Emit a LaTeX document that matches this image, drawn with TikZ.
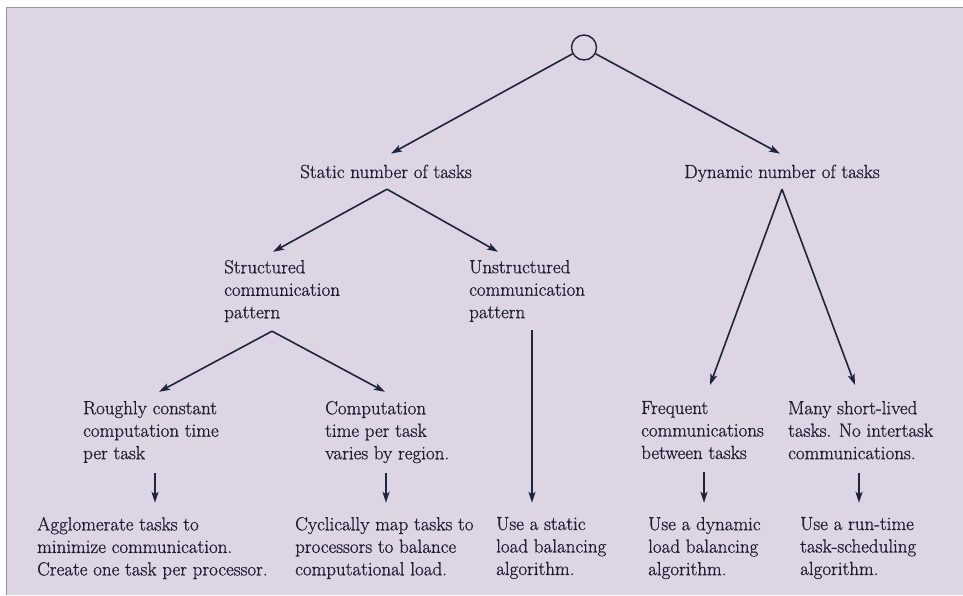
\documentclass[tikz,border=0pt]{standalone}
\usetikzlibrary{arrows.meta}
\font\figfont="[lmroman17-regular.otf]:embolden=0.8" at 19pt
\definecolor{paper}{RGB}{221,213,228}
\definecolor{ink}{RGB}{30,36,60}
\definecolor{txt}{RGB}{30,30,48}
\definecolor{rim}{RGB}{150,150,162}

\begin{document}
\begin{tikzpicture}[x=1pt,y=-1pt,
  lbl/.style={inner sep=0pt,align=left,text=txt,font=\fontsize{19}{22.5}\selectfont\figfont},
  branch/.style={draw=ink,line width=1.6pt,-{Stealth[length=11pt,width=7pt,inset=2.5pt]}}]
\useasboundingbox (0,0) rectangle (963,595);
\fill[white] (0,0) rectangle (963,595);
\fill[paper] (6,7) rectangle (963,595);
\draw[rim] (6,595) -- (6,7) -- (963,7);

\node[circle,draw=ink,line width=1.4pt,minimum size=25pt,inner sep=0pt] (root) at (584,47.5) {};
\node[lbl,anchor=base,inner ysep=11pt,text height=13.2pt,text depth=0pt] (static) at (386,178) {Static number of tasks};
\node[lbl,anchor=base,inner ysep=11pt,text height=13.2pt,text depth=0pt] (dynamic) at (782,178) {Dynamic number of tasks};
\node[lbl,anchor=north west] (struct) at (224,259.8) {Structured\\communication\\pattern};
\node[lbl,anchor=north west] (unstruct) at (469,259.8) {Unstructured\\communication\\pattern};
\node[lbl,anchor=north west] (rough) at (83,400.8) {Roughly constant\\computation time\\per task};
\node[lbl,anchor=north west] (varies) at (325,400.8) {Computation\\time per task\\varies by region.};
\node[lbl,anchor=north west] (freq) at (641,400.8) {Frequent\\communications\\between tasks};
\node[lbl,anchor=north west] (many) at (788,400.8) {Many short-lived\\tasks. No intertask\\communications.};
\node[lbl,anchor=north west] (agglom) at (37,516.8) {Agglomerate tasks to\\minimize communication.\\Create one task per processor.};
\node[lbl,anchor=north west] (cyclic) at (295,516.8) {Cyclically map tasks to\\processors to balance\\computational load.};
\node[lbl,anchor=north west] (staticlb) at (496,516.8) {Use a static\\load balancing\\algorithm.};
\node[lbl,anchor=north west] (dynlb) at (648,516.8) {Use a dynamic\\load balancing\\algorithm.};
\node[lbl,anchor=north west] (runtime) at (800,516.8) {Use a run-time\\task-scheduling\\algorithm.};

\draw[branch] (root) -- ([xshift=5pt]static.north);
\draw[branch] (root) -- ([xshift=-2pt]dynamic.north);
\draw[branch] ([xshift=1pt]static.south) -- ([xshift=49pt,yshift=8pt]struct.north west);
\draw[branch] ([xshift=1pt]static.south) -- ([xshift=29pt,yshift=8pt]unstruct.north west);
\draw[branch] ([xshift=48pt,yshift=-9pt]struct.south west) -- ([xshift=76pt,yshift=9pt]rough.north west);
\draw[branch] ([xshift=48pt,yshift=-9pt]struct.south west) -- ([xshift=60pt,yshift=9pt]varies.north west);
\draw[branch] ([xshift=63pt,yshift=-8pt]unstruct.south west) -- ([xshift=36pt,yshift=14pt]staticlb.north west);
\draw[branch] ([xshift=72pt,yshift=-10pt]rough.south west) -- ([xshift=118pt,yshift=14pt]agglom.north west);
\draw[branch] ([xshift=61pt,yshift=-10pt]varies.south west) -- ([xshift=91pt,yshift=14pt]cyclic.north west);
\draw[branch] (dynamic.south) -- ([xshift=69pt,yshift=15.8pt]freq.north west);
\draw[branch] (dynamic.south) -- ([xshift=67pt,yshift=15.8pt]many.north west);
\draw[branch] ([xshift=63pt,yshift=-13pt]freq.south west) -- ([xshift=56pt,yshift=14pt]dynlb.north west);
\draw[branch] ([xshift=71pt,yshift=-13pt]many.south west) -- ([xshift=59pt,yshift=14pt]runtime.north west);
\end{tikzpicture}
\end{document}
